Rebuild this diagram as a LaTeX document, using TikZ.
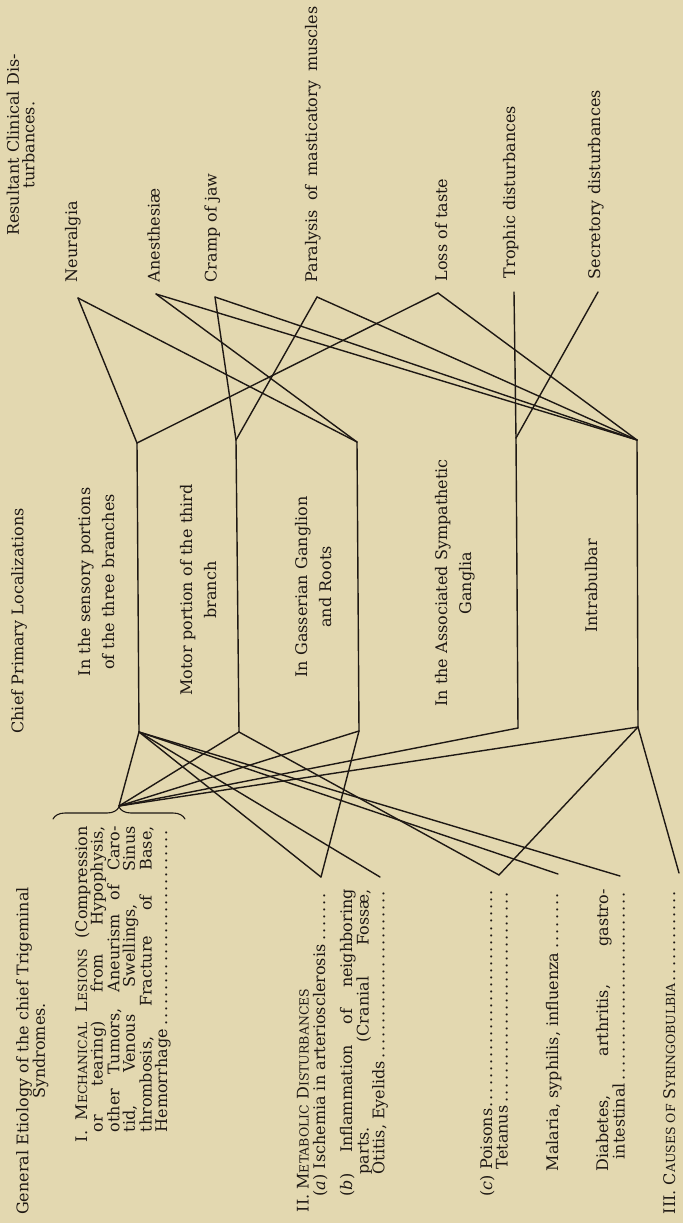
\documentclass[tikz,border=0pt]{standalone}
\usepackage{fontspec}
\setmainfont{DejaVu Serif}
\usetikzlibrary{decorations.pathreplacing}
\definecolor{paper}{RGB}{227,216,176}
\definecolor{ink}{RGB}{30,24,20}
\newcommand\fsc[2]{#1{\fontsize{12.5}{12}\selectfont #2}}
\tolerance=10000 \hbadness=10000
\begin{document}
\begin{tikzpicture}[x=1pt,y=-1pt,line width=1.4pt,line cap=round,line join=round,
  every node/.style={inner sep=0pt,text=ink,font=\fontsize{16}{15.6}\selectfont},
  lab/.style={rotate=90,anchor=base west},
  box/.style={rotate=90,anchor=base,text width=340pt,align=center,font=\fontsize{16}{24}\selectfont},
  ety/.style={rotate=90,anchor=base west,align=justify}]
\fill[paper] (0,0) rectangle (683,1223);
\useasboundingbox (0,0) rectangle (683,1223);

\node[box,font=\fontsize{16}{15.5}\selectfont] (res) at (19,145) {Resultant Clinical Dis-\\turbances.};
\node[box] (loc) at (23.4,621) {Chief Primary Localizations};
\node[box,font=\fontsize{16}{16.5}\selectfont] (gen) at (28.4,1051) {General Etiology of the chief Trigeminal\\Syndromes.};

\node[lab] (neu) at (77,283) {Neuralgia};
\node[lab] (ane) at (159.5,283) {Anesthesiæ};
\node[lab] (cra) at (216.5,283) {Cramp of jaw};
\node[lab] (par) at (317,283) {\makebox[276pt][s]{Paralysis of masticatory muscles}};
\node[lab] (los) at (447,282) {Loss of taste};
\node[lab] (tro) at (515,279) {Trophic disturbances};
\node[lab] (sec) at (600,280) {Secretory disturbances};

\node[box] (sen) at (90,582) {In the sensory portions\\of the three branches};
\node[box] (mot) at (192,590) {Motor portion of the third\\branch};
\node[box] (gas) at (307,587) {In Gasserian Ganglion\\and Roots};
\node[box] (sym) at (447,583) {In the Associated Sympathetic\\Ganglia};
\node[box] (itb) at (597,586) {Intrabulbar};

\node[ety,text width=316pt] (mech) at (87,1143) {\parfillskip=0pt\hangindent=10pt\hangafter=1
  I. \fsc{M}{ECHANICAL} \fsc{L}{ESIONS} (Compression\linebreak or tearing) from Hypophysis,\linebreak
  other Tumors, Aneurism of Caro-\linebreak tid, Venous Swellings, Sinus\linebreak
  thrombosis, Fracture of Base,\linebreak Hemorrhage\dotfill\par};
\node[lab] (meta) at (308.5,1213) {II. \fsc{M}{ETABOLIC} \fsc{D}{ISTURBANCES}};
\node[ety,text width=307pt] (isch) at (325,1197) {\parfillskip=0pt
  (\textit{a}) Ischemia in arteriosclerosis\dotfill\par};
\node[ety,text width=307pt] (infl) at (352,1197) {\parfillskip=0pt\hangindent=22pt\hangafter=1
  (\textit{b}) Inflammation of neighboring\linebreak parts. (Cranial Fossæ,\linebreak Otitis, Eyelids\dotfill\par};
\node[ety,text width=307pt] (pois) at (492,1197) {\parfillskip=0pt\hangindent=27pt\hangafter=1
  (\textit{c}) Poisons\dotfill\newline Tetanus\dotfill\par};
\node[ety,text width=282pt] (mala) at (558,1172) {\parfillskip=0pt
  Malaria, syphilis, influenza\dotfill\par};
\node[ety,text width=282pt] (diab) at (608,1172) {\parfillskip=0pt\hangindent=12pt\hangafter=1
  Diabetes, arthritis, gastro-\linebreak intestinal\dotfill\par};
\node[ety,text width=325pt] (syri) at (675,1215) {\parfillskip=0pt
  III. \fsc{C}{AUSES OF} \fsc{S}{YRINGOBULBIA}\dotfill\par};

\coordinate (neuE) at (78,298);
\coordinate (aneE) at (156,294);
\coordinate (craE) at (215,297);
\coordinate (parE) at (317,297);
\coordinate (losE) at (438,293);
\coordinate (troE) at (514,292);
\coordinate (secE) at (598,292);
\coordinate (senT) at (137,443);
\coordinate (motT) at (236,440);
\coordinate (gasT) at (357,442);
\coordinate (symT) at (516,438);
\coordinate (intT) at (637,440);
\coordinate (senB) at (139,732);
\coordinate (motB) at (239,732);
\coordinate (gasB) at (359,731);
\coordinate (symB) at (518,728);
\coordinate (intB) at (638,727);
\coordinate (brc) at (119,806);
\coordinate (ischE) at (321,877);
\coordinate (inflE) at (380,877);
\coordinate (poiE) at (499,875);
\coordinate (malE) at (558,874);
\coordinate (diaE) at (620,876);
\coordinate (syrE) at (679,873);

\foreach \a/\b in {neuE/senT,neuE/gasT,aneE/gasT,aneE/intT,craE/motT,craE/intT,
  parE/motT,parE/intT,losE/senT,losE/intT,troE/symT,secE/symT,
  senT/senB,motT/motB,gasT/gasB,symT/symB,intT/intB,
  brc/senB,brc/motB,brc/gasB,brc/symB,brc/intB,
  senB/ischE,senB/inflE,senB/malE,senB/diaE,motB/poiE,gasB/ischE,intB/poiE,intB/syrE}
  \draw[ink] (\a) -- (\b);
\draw[ink,line width=1.1pt,decorate,decoration={brace,amplitude=12pt}] (53,819) -- (185,819);
\end{tikzpicture}
\end{document}
